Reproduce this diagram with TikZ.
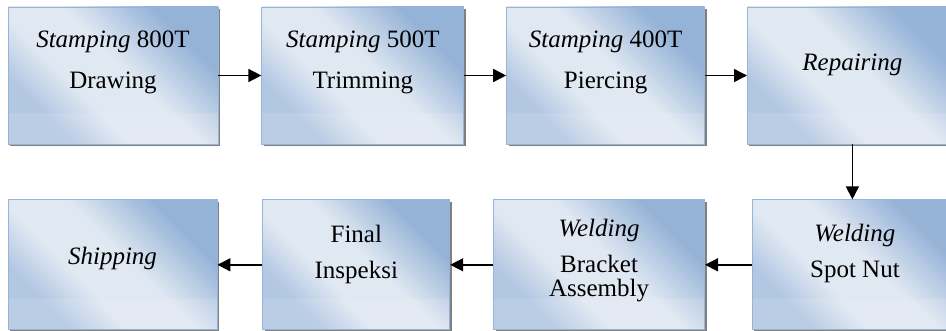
\documentclass[tikz,border=0pt]{standalone}
\usepackage{fontspec}
\setmainfont{Liberation Serif}
\usetikzlibrary{positioning,arrows.meta,shadows}
\definecolor{bdark}{RGB}{149,179,215}
\definecolor{bmid}{RGB}{178,199,226}
\definecolor{blight}{RGB}{224,232,242}
\definecolor{bedge}{RGB}{150,180,218}
\pgfdeclarehorizontalshading{boxfade}{100bp}{color(0bp)=(bdark); color(28bp)=(bdark);
  color(46bp)=(blight); color(60bp)=(blight); color(72bp)=(bmid); color(100bp)=(bmid)}
\tikzset{
  blk/.style={draw=bedge, line width=0.8pt, shade, shading=boxfade, shading angle=225,
              align=center, font=\fontsize{25}{36}\selectfont, inner sep=0pt,
              minimum height=130pt, text depth=27pt,
              drop shadow={shadow xshift=2pt, shadow yshift=-2pt, fill=black!50, opacity=1},
              path picture={\fill[white, opacity=0.12]
                ([yshift=31pt]path picture bounding box.south west) rectangle
                (path picture bounding box.south east);}},
  rowA/.style={minimum height=137pt, font=\fontsize{25}{41}\selectfont, text depth=31pt},
  flow/.style={-{Triangle[length=13pt, width=13pt]}, line width=1.5pt},
}
\begin{document}
\begin{tikzpicture}[x=1pt, y=-1pt, node distance=43pt]
  \useasboundingbox (0,0) rectangle (946,331);
  % upper row, left to right
  \node[blk, rowA, minimum width=210pt] (s800) at (113,75.5) {\textit{Stamping} 800T\\Drawing};
  \node[blk, rowA, minimum width=202pt, right=of s800] (s500) {\textit{Stamping} 500T\\Trimming};
  \node[blk, rowA, minimum width=198pt, right=42pt of s500] (s400) {\textit{Stamping} 400T\\Piercing};
  \node[blk, rowA, minimum width=210pt, text depth=27pt, right=42pt of s400] (rep) {\textit{Repairing}};
  % lower row, right to left
  \node[blk, minimum width=205pt, text depth=28pt, below=55pt of rep, xshift=2.5pt] (spot) {\textit{Welding}\\Spot Nut};
  \node[blk, minimum width=211pt, text depth=14pt, left=47pt of spot] (wbr) {\textit{Welding}\\Bracket\\[-12pt]Assembly};
  \node[blk, minimum width=187pt, text depth=26pt, left=of wbr] (fin) {Final\\Inspeksi};
  \node[blk, minimum width=209pt, text depth=18pt, left=45pt of fin] (ship) {\textit{Shipping}};
  \draw[flow] (s800) -- (s500);
  \draw[flow] (s500) -- (s400);
  \draw[flow] (s400) -- (rep);
  \draw[flow] (rep.south) -- (rep.south |- spot.north);
  \draw[flow] (spot) -- (wbr);
  \draw[flow] (wbr) -- (fin);
  \draw[flow] (fin) -- (ship);
\end{tikzpicture}
\end{document}
